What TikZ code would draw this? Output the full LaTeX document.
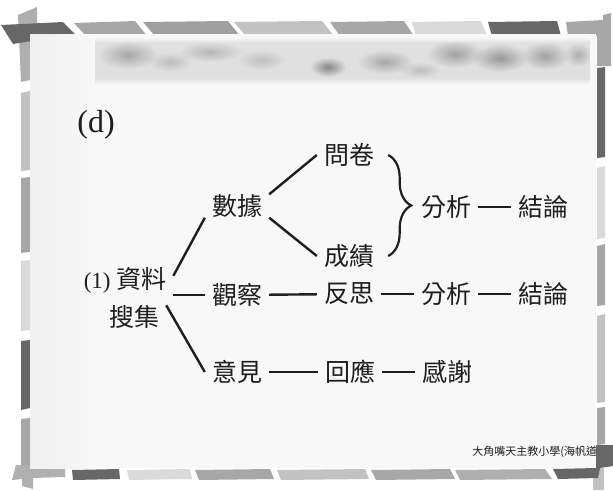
\documentclass[tikz,border=0pt]{standalone}
\usepackage{fontspec}
\setmainfont{Liberation Serif}
\newfontfamily\cjk{Noto Sans CJK TC}
\usepackage{tikz}
\usetikzlibrary{decorations.pathreplacing,fadings}

\definecolor{bardark}{HTML}{676767}
\definecolor{barmid}{HTML}{A7A7A7}
\definecolor{barsoft}{HTML}{C2C2C2}
\definecolor{barpale}{HTML}{DADADA}
\definecolor{panelbg}{HTML}{F8F8F8}
\definecolor{ink}{HTML}{1E1E1E}

\tikzfading[name=softblot,inner color=transparent!0,outer color=transparent!100]
\newcommand{\smudge}[5]{%
  \fill[black,opacity=#5,path fading=softblot] (#1,#2) ellipse [x radius=#3,y radius=#4];}

\begin{document}
\begin{tikzpicture}[
  x=1pt,y=-1pt,
  every node/.style={text=ink,inner sep=7pt},
  word/.style={font=\cjk\fontsize{25}{28}\selectfont},
  link/.style={line width=2.4pt,draw=ink},
  curly/.style={line width=2.2pt,draw=ink,decorate,decoration={brace,amplitude=23pt}}
]
  \useasboundingbox (0,0) rectangle (613,490);

  % frame pieces
  \fill[barsoft!90!black] (18,15) -- (37,7) -- (37,34) -- (30,34) -- (30,80) -- (21,82) -- cycle;
  \fill[bardark] (1,25) -- (63,22) -- (75,34) -- (13,44) -- cycle;
  \fill[barmid] (74,23) -- (135,21) -- (147,36) -- (86,36) -- cycle;
  \fill[barmid!95!black] (143,22) -- (228,21) -- (240,36) -- (155,36) -- cycle;
  \fill[barsoft] (234,22) -- (322,21) -- (334,36) -- (246,36) -- cycle;
  \fill[barmid] (330,22) -- (404,21) -- (414,36) -- (340,36) -- cycle;
  \fill[barpale] (412,22) -- (481,21) -- (487,36) -- (416,36) -- cycle;
  \fill[bardark] (488,22) -- (557,21) -- (561,36) -- (492,36) -- cycle;
  \fill[barmid] (566,22) -- (603,20) -- (603,15) -- (611,13) -- (611,66) -- (597,66) -- (597,36) -- (568,36) -- cycle;

  \fill[barsoft] (21,93) -- (30,91) -- (30,170) -- (21,171) -- cycle;
  \fill[barmid] (21,178) -- (30,177) -- (30,252) -- (21,253) -- cycle;
  \fill[barpale] (21,261) -- (30,260) -- (30,330) -- (21,331) -- cycle;
  \fill[bardark] (21,341) -- (30,340) -- (30,408) -- (21,410) -- cycle;
  \fill[barmid] (21,419) -- (30,418) -- (30,466) -- (21,466) -- cycle;
  \fill[barmid!90!white] (16,465) -- (30,465) -- (30,468) -- (65,468) -- (65,477) -- (33,478)
    -- (33,489) -- (22,486) -- (22,479) -- (12,480) -- cycle;

  \fill[bardark] (597,68) -- (605,67) -- (605,157) -- (597,158) -- cycle;
  \fill[barpale] (597,168) -- (605,166) -- (605,238) -- (597,239) -- cycle;
  \fill[barmid] (597,246) -- (605,244) -- (605,305) -- (597,306) -- cycle;
  \fill[barsoft] (597,316) -- (605,314) -- (605,402) -- (597,403) -- cycle;
  \fill[barmid] (597,408) -- (605,407) -- (605,444) -- (597,445) -- cycle;
  \fill[barsoft] (593,468) -- (604,468) -- (604,490) -- (593,490) -- cycle;

  \fill[bardark] (72,470) -- (119,469) -- (120,479) -- (73,480) -- cycle;
  \fill[barpale] (127,470) -- (190,469) -- (192,479) -- (129,480) -- cycle;
  \fill[barmid] (195,470) -- (270,469) -- (274,479) -- (199,480) -- cycle;
  \fill[barsoft] (277,470) -- (365,469) -- (369,479) -- (281,480) -- cycle;
  \fill[barmid] (371,470) -- (450,469) -- (455,479) -- (376,480) -- cycle;
  \fill[barsoft!90!black] (455,470) -- (545,469) -- (552,479) -- (460,480) -- cycle;

  % panel and banner
  \fill[panelbg] (30,34) rectangle (596,468);
  \shade[left color=black!6,right color=panelbg] (30,34) rectangle (95,468);
  \shade[top color=panelbg,bottom color=black!12] (95,37) rectangle (590,43);
  \fill[black!12] (95,43) rectangle (590,78);
  \shade[top color=black!12,bottom color=panelbg] (95,78) rectangle (590,85);
  \begin{scope}
    \clip (95,42) rectangle (590,80);
    \smudge{128}{55}{30}{14}{.25}
    \smudge{170}{62}{22}{10}{.15}
    \smudge{210}{52}{32}{10}{.18}
    \smudge{262}{60}{24}{10}{.15}
    \smudge{328}{67}{18}{10}{.4}
    \smudge{385}{62}{28}{12}{.25}
    \smudge{420}{70}{20}{8}{.15}
    \smudge{455}{54}{28}{14}{.28}
    \smudge{500}{58}{28}{14}{.32}
    \smudge{545}{56}{24}{14}{.28}
    \smudge{578}{55}{14}{12}{.22}
  \end{scope}

  % text
  \node[font=\fontsize{32}{36}\selectfont] (tag) at (96,125) {(d)};
  \node[word] (collect) at (125,280) {{\rmfamily\fontsize{23}{28}\selectfont (1)} 資料};
  \node[word] (gather) at (134,317) {搜集};
  \node[word] (data) at (237,206) {數據};
  \node[word] (observe) at (237,295) {觀察};
  \node[word] (opinion) at (237,372) {意見};
  \node[word] (quest) at (349,155) {問卷};
  \node[word] (grades) at (349,256) {成績};
  \node[word] (reflect) at (349,294) {反思};
  \node[word] (reply) at (350,372) {回應};
  \node[word] (analysis) at (446,207) {分析};
  \node[word] (result) at (543,207) {結論};
  \node[word] (analysis2) at (446,294) {分析};
  \node[word] (result2) at (543,294) {結論};
  \node[word] (thanks) at (447,372) {感謝};
  \node[font=\cjk\fontsize{11}{13}\selectfont,anchor=east,inner sep=0pt] (school) at (601,452)
    {大角嘴天主教小學(海帆道)};

  \draw[link] (collect.5) -- (data.200);
  \draw[link] (collect.east |- observe.west) -- (observe.west);
  \draw[link] (gather.20) -- (opinion.west);
  \draw[link] (data.20) -- (quest.west);
  \draw[link] (data.-20) -- (grades.west);
  \draw[curly] ([xshift=7pt]quest.east) -- ([xshift=7pt]grades.east);
  \draw[link] (analysis) -- (result);
  \draw[link] (observe) -- (reflect);
  \draw[link] (reflect) -- (analysis2);
  \draw[link] (analysis2) -- (result2);
  \draw[link] (opinion) -- (reply);
  \draw[link] (reply) -- (thanks);

  \fill[bardark] (553,469) -- (596,468) -- (596,445) -- (613,445) -- (613,466) -- (600,468)
    -- (598,478) -- (558,479) -- cycle;
\end{tikzpicture}
\end{document}
